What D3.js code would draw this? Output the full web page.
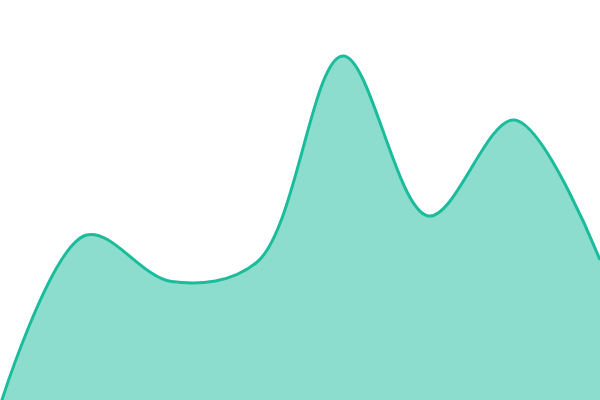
<!DOCTYPE html>
<html>
<head>
<meta charset="utf-8">
<script src="https://cdn.jsdelivr.net/npm/d3@7.9.0/dist/d3.min.js"></script>
<style>
  html, body { margin: 0; padding: 0; background: #fff; }
  svg { display: block; }
</style>
</head>
<body>
<svg id="chart" width="600" height="400"></svg>
<script>
// Data (index -> value, 0..100 scale)
const steps = [0, 1, 2, 3, 4, 5, 6, 7];
const values = [-1.5, 41.2, 29.6, 34.5, 86, 46, 70, 35];

const width = 600;
const height = 400;

const svg = d3.select('#chart');

const x = d3.scaleLinear().domain([0, steps.length - 1]).range([0, width]);
const y = d3.scaleLinear().domain([0, 100]).range([height, 0]);

const data = steps.map((s, i) => ({ step: s, value: values[i] }));

const area = d3.area()
  .x((d) => x(d.step))
  .y0(height)
  .y1((d) => y(d.value))
  .curve(d3.curveCatmullRom);

const line = d3.line()
  .x((d) => x(d.step))
  .y((d) => y(d.value))
  .curve(d3.curveCatmullRom);

svg.append('path')
  .datum(data)
  .attr('d', area)
  .attr('fill', '#1abc9c')
  .attr('fill-opacity', 0.5);

svg.append('path')
  .datum(data)
  .attr('d', line)
  .attr('fill', 'none')
  .attr('stroke', '#1abc9c')
  .attr('stroke-width', 3);
</script>
</body>
</html>
